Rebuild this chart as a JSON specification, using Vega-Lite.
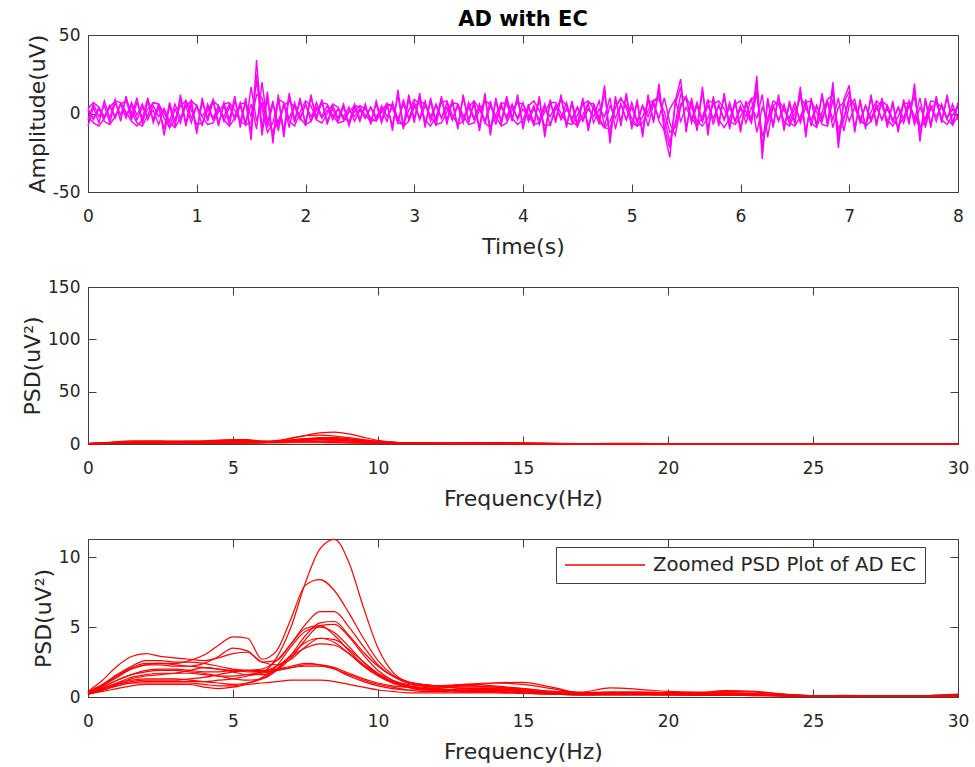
{
"$schema":"https://vega.github.io/schema/vega-lite/v6.json",
"background":"white",
"padding":{"left":21,"top":8,"right":17,"bottom":5},
"bounds":"flush",
"spacing":95,
"config":{
"font":"DejaVu Sans",
"view":{"stroke":"#404040","strokeWidth":1},
"axis":{"grid":false,"domainColor":"#404040","tickColor":"#404040","tickSize":-8,"labelFontSize":17,"labelColor":"#262626","titleFontSize":22,"titleFontWeight":"normal","titleColor":"#262626","labelFlush":false,"labelOverlap":false},
"axisX":{"labelPadding":24,"titlePadding":12},
"axisY":{"labelPadding":16,"titlePadding":3},
"title":{"font":"DejaVu Sans","fontSize":21,"fontWeight":"bold","color":"#000000","offset":-4,"anchor":"middle","frame":"group"}
},
"datasets":{
"eeg":[
{"t":0,"a":-8,"b":-4,"c":2,"d":3,"e":3,"g":-2},{"t":0.05,"a":4,"b":6,"c":-4,"d":-3,"e":7,"g":-6},{"t":0.1,"a":-6,"b":-2,"c":3,"d":4,"e":4,"g":-8},{"t":0.15,"a":8,"b":5,"c":-3,"d":-2,"e":-5,"g":-3},{"t":0.2,"a":-3,"b":-6,"c":5,"d":5,"e":-7,"g":4},{"t":0.25,"a":9,"b":7,"c":-2,"d":-3,"e":-2,"g":8},{"t":0.3,"a":-5,"b":-1,"c":6,"d":6,"e":6,"g":7},{"t":0.35,"a":11,"b":9,"c":-3,"d":-1,"e":8,"g":1},{"t":0.4,"a":-2,"b":-4,"c":7,"d":5,"e":1,"g":-5},{"t":0.45,"a":10,"b":7,"c":-1,"d":-4,"e":-6,"g":-8},
{"t":0.5,"a":-7,"b":-3,"c":6,"d":4,"e":-8,"g":-4},{"t":0.55,"a":8,"b":10,"c":-4,"d":-2,"e":-1,"g":3},{"t":0.6,"a":-4,"b":-6,"c":5,"d":2,"e":7,"g":7},{"t":0.65,"a":6,"b":4,"c":-2,"d":-7,"e":6,"g":6},{"t":0.7,"a":-14,"b":-10,"c":3,"d":3,"e":-3,"g":0},{"t":0.75,"a":5,"b":7,"c":-9,"d":-5,"e":-9,"g":-6},{"t":0.8,"a":-9,"b":-5,"c":3,"d":6,"e":-4,"g":-9},{"t":0.85,"a":12,"b":9,"c":-6,"d":-3,"e":5,"g":-3},{"t":0.9,"a":-6,"b":-8,"c":8,"d":5,"e":8,"g":5},{"t":0.95,"a":9,"b":6,"c":-3,"d":-6,"e":2,"g":8},
{"t":1,"a":-13,"b":-11,"c":5,"d":5,"e":-7,"g":5},{"t":1.05,"a":10,"b":7,"c":-8,"d":-2,"e":-6,"g":-2},{"t":1.1,"a":-5,"b":-3,"c":6,"d":4,"e":2,"g":-7},{"t":1.15,"a":8,"b":9,"c":-3,"d":-4,"e":8,"g":-6},{"t":1.2,"a":-8,"b":-6,"c":5,"d":3,"e":5,"g":1},{"t":1.25,"a":7,"b":5,"c":-5,"d":-2,"e":-4,"g":6},{"t":1.3,"a":-4,"b":-7,"c":4,"d":6,"e":-8,"g":7},{"t":1.35,"a":11,"b":8,"c":-2,"d":-4,"e":-3,"g":2},{"t":1.4,"a":-9,"b":-5,"c":7,"d":5,"e":6,"g":-5},{"t":1.45,"a":10,"b":7,"c":-6,"d":-8,"e":7,"g":-7},
{"t":1.5,"a":-17,"b":-12,"c":6,"d":17,"e":-2,"g":-6},{"t":1.55,"a":34,"b":25,"c":-10,"d":-5,"e":20,"g":12},{"t":1.6,"a":-10,"b":-14,"c":20,"d":7,"e":3,"g":10},{"t":1.65,"a":14,"b":10,"c":-6,"d":-9,"e":-12,"g":-4},{"t":1.7,"a":-19,"b":-15,"c":8,"d":6,"e":-6,"g":-12},{"t":1.75,"a":12,"b":9,"c":-11,"d":-7,"e":9,"g":-5},{"t":1.8,"a":-15,"b":-11,"c":7,"d":5,"e":7,"g":5},{"t":1.85,"a":11,"b":13,"c":-9,"d":-3,"e":-5,"g":8},{"t":1.9,"a":-6,"b":-4,"c":7,"d":5,"e":-8,"g":4},{"t":1.95,"a":10,"b":8,"c":-3,"d":-4,"e":1,"g":-3},
{"t":2,"a":-8,"b":-6,"c":6,"d":6,"e":8,"g":-7},{"t":2.05,"a":12,"b":10,"c":-5,"d":-2,"e":5,"g":-5},{"t":2.1,"a":-4,"b":-2,"c":7,"d":4,"e":-4,"g":2},{"t":2.15,"a":9,"b":7,"c":-2,"d":-3,"e":-6,"g":7},{"t":2.2,"a":-7,"b":-5,"c":5,"d":2,"e":0,"g":6},{"t":2.25,"a":5,"b":3,"c":-4,"d":-2,"e":6,"g":-1},{"t":2.3,"a":-3,"b":-5,"c":3,"d":3,"e":4,"g":-6},{"t":2.35,"a":6,"b":4,"c":-2,"d":-4,"e":-3,"g":-5},{"t":2.4,"a":-8,"b":-6,"c":4,"d":2,"e":-5,"g":1},{"t":2.45,"a":4,"b":6,"c":-5,"d":-2,"e":1,"g":5},
{"t":2.5,"a":-5,"b":-3,"c":2,"d":3,"e":5,"g":4},{"t":2.55,"a":6,"b":4,"c":-3,"d":-3,"e":3,"g":-1},{"t":2.6,"a":-7,"b":-5,"c":4,"d":4,"e":-3,"g":-5},{"t":2.65,"a":8,"b":6,"c":-4,"d":-2,"e":-5,"g":-4},{"t":2.7,"a":-4,"b":-6,"c":5,"d":3,"e":1,"g":2},{"t":2.75,"a":7,"b":5,"c":-2,"d":-5,"e":6,"g":6},{"t":2.8,"a":-11,"b":-8,"c":4,"d":7,"e":4,"g":5},{"t":2.85,"a":15,"b":12,"c":-6,"d":-4,"e":-6,"g":-3},{"t":2.9,"a":-8,"b":-10,"c":9,"d":6,"e":-7,"g":-8},{"t":2.95,"a":12,"b":9,"c":-4,"d":-3,"e":2,"g":-5},
{"t":3,"a":-6,"b":-3,"c":7,"d":6,"e":9,"g":4},{"t":3.05,"a":13,"b":10,"c":-3,"d":-4,"e":6,"g":8},{"t":3.1,"a":-9,"b":-7,"c":8,"d":5,"e":-4,"g":6},{"t":3.15,"a":10,"b":8,"c":-5,"d":-2,"e":-8,"g":-2},{"t":3.2,"a":-5,"b":-8,"c":6,"d":5,"e":-2,"g":-7},{"t":3.25,"a":11,"b":9,"c":-3,"d":-3,"e":7,"g":-6},{"t":3.3,"a":-7,"b":-4,"c":7,"d":4,"e":8,"g":1},{"t":3.35,"a":9,"b":7,"c":-4,"d":-4,"e":-1,"g":7},{"t":3.4,"a":-10,"b":-8,"c":5,"d":6,"e":-7,"g":6},{"t":3.45,"a":12,"b":10,"c":-6,"d":-3,"e":-5,"g":-1},
{"t":3.5,"a":-6,"b":-4,"c":7,"d":4,"e":4,"g":-7},{"t":3.55,"a":8,"b":6,"c":-3,"d":-4,"e":8,"g":-6},{"t":3.6,"a":-9,"b":-11,"c":4,"d":6,"e":3,"g":2},{"t":3.65,"a":13,"b":10,"c":-5,"d":-6,"e":-6,"g":8},{"t":3.7,"a":-14,"b":-10,"c":8,"d":5,"e":-9,"g":6},{"t":3.75,"a":10,"b":8,"c":-7,"d":-3,"e":-1,"g":-2},{"t":3.8,"a":-7,"b":-5,"c":6,"d":4,"e":7,"g":-8},{"t":3.85,"a":9,"b":11,"c":-4,"d":-2,"e":6,"g":-6},{"t":3.9,"a":-5,"b":-3,"c":5,"d":6,"e":-3,"g":2},{"t":3.95,"a":12,"b":9,"c":-3,"d":-4,"e":-7,"g":7},
{"t":4,"a":-10,"b":-7,"c":7,"d":3,"e":-4,"g":6},{"t":4.05,"a":6,"b":4,"c":-5,"d":-3,"e":5,"g":-1},{"t":4.1,"a":-8,"b":-6,"c":3,"d":5,"e":8,"g":-7},{"t":4.15,"a":11,"b":9,"c":-4,"d":-7,"e":2,"g":-6},{"t":4.2,"a":-15,"b":-12,"c":6,"d":4,"e":-8,"g":1},{"t":4.25,"a":9,"b":7,"c":-8,"d":-2,"e":-7,"g":7},{"t":4.3,"a":-6,"b":-4,"c":5,"d":5,"e":3,"g":7},{"t":4.35,"a":12,"b":10,"c":-3,"d":-4,"e":9,"g":0},{"t":4.4,"a":-9,"b":-7,"c":7,"d":3,"e":5,"g":-6},{"t":4.45,"a":8,"b":6,"c":-5,"d":-3,"e":-5,"g":-7},
{"t":4.5,"a":-7,"b":-9,"c":4,"d":4,"e":-8,"g":-1},{"t":4.55,"a":10,"b":8,"c":-4,"d":-5,"e":-1,"g":6},{"t":4.6,"a":-11,"b":-8,"c":6,"d":3,"e":7,"g":8},{"t":4.65,"a":6,"b":4,"c":-6,"d":-2,"e":6,"g":3},{"t":4.7,"a":-4,"b":-7,"c":3,"d":8,"e":-3,"g":-5},{"t":4.75,"a":18,"b":14,"c":-2,"d":-8,"e":-9,"g":-9},{"t":4.8,"a":-19,"b":-15,"c":10,"d":5,"e":-10,"g":-5},{"t":4.85,"a":11,"b":9,"c":-10,"d":-3,"e":4,"g":4},{"t":4.9,"a":-8,"b":-5,"c":6,"d":6,"e":10,"g":9},{"t":4.95,"a":13,"b":11,"c":-4,"d":-4,"e":3,"g":5},
{"t":5,"a":-10,"b":-8,"c":7,"d":4,"e":-6,"g":-3},{"t":5.05,"a":9,"b":7,"c":-5,"d":-6,"e":-8,"g":-8},{"t":5.1,"a":-15,"b":-12,"c":5,"d":5,"e":-2,"g":-6},{"t":5.15,"a":12,"b":9,"c":-8,"d":-2,"e":7,"g":2},{"t":5.2,"a":-6,"b":-4,"c":6,"d":8,"e":8,"g":8},{"t":5.25,"a":19,"b":15,"c":-3,"d":-5,"e":11,"g":9},{"t":5.3,"a":-12,"b":-9,"c":10,"d":-11,"e":-4,"g":1},{"t":5.35,"a":-28,"b":-22,"c":-6,"d":3,"e":-18,"g":-12},{"t":5.4,"a":8,"b":6,"c":-14,"d":9,"e":-6,"g":-9},{"t":5.45,"a":22,"b":17,"c":4,"d":-5,"e":12,"g":6},
{"t":5.5,"a":-12,"b":-9,"c":11,"d":4,"e":9,"g":10},{"t":5.55,"a":10,"b":8,"c":-6,"d":-4,"e":-3,"g":4},{"t":5.6,"a":-9,"b":-11,"c":5,"d":7,"e":-8,"g":-5},{"t":5.65,"a":17,"b":14,"c":-5,"d":-5,"e":-2,"g":-8},{"t":5.7,"a":-14,"b":-10,"c":9,"d":5,"e":8,"g":-3},{"t":5.75,"a":11,"b":9,"c":-7,"d":-3,"e":7,"g":6},{"t":5.8,"a":-8,"b":-6,"c":6,"d":5,"e":-4,"g":8},{"t":5.85,"a":13,"b":11,"c":-4,"d":-4,"e":-9,"g":3},{"t":5.9,"a":-10,"b":-8,"c":7,"d":4,"e":-3,"g":-5},{"t":5.95,"a":9,"b":7,"c":-5,"d":-5,"e":6,"g":-7},
{"t":6,"a":-12,"b":-9,"c":5,"d":3,"e":8,"g":-2},{"t":6.05,"a":8,"b":6,"c":-6,"d":-2,"e":1,"g":5},{"t":6.1,"a":-6,"b":-4,"c":4,"d":10,"e":-6,"g":9},{"t":6.15,"a":24,"b":19,"c":-3,"d":-12,"e":14,"g":12},{"t":6.2,"a":-29,"b":-23,"c":12,"d":4,"e":-20,"g":-14},{"t":6.25,"a":10,"b":8,"c":-15,"d":-4,"e":-3,"g":-6},{"t":6.3,"a":-9,"b":-7,"c":5,"d":5,"e":8,"g":5},{"t":6.35,"a":12,"b":10,"c":-5,"d":-4,"e":6,"g":8},{"t":6.4,"a":-11,"b":-9,"c":6,"d":3,"e":-5,"g":3},{"t":6.45,"a":8,"b":6,"c":-6,"d":-3,"e":-8,"g":-6},
{"t":6.5,"a":-7,"b":-5,"c":4,"d":7,"e":0,"g":-8},{"t":6.55,"a":17,"b":14,"c":-4,"d":-6,"e":10,"g":-2},{"t":6.6,"a":-15,"b":-12,"c":9,"d":4,"e":5,"g":7},{"t":6.65,"a":10,"b":8,"c":-8,"d":-4,"e":-6,"g":8},{"t":6.7,"a":-9,"b":-7,"c":5,"d":5,"e":-9,"g":1},{"t":6.75,"a":13,"b":11,"c":-5,"d":-3,"e":1,"g":-7},{"t":6.8,"a":-8,"b":-6,"c":7,"d":8,"e":9,"g":-8},{"t":6.85,"a":20,"b":16,"c":-4,"d":-9,"e":12,"g":9},{"t":6.9,"a":-22,"b":-17,"c":10,"d":4,"e":-14,"g":-10},{"t":6.95,"a":9,"b":7,"c":-11,"d":7,"e":-4,"g":-2},
{"t":7,"a":18,"b":14,"c":5,"d":-5,"e":11,"g":8},{"t":7.05,"a":-12,"b":-9,"c":9,"d":4,"e":4,"g":6},{"t":7.1,"a":9,"b":7,"c":-6,"d":-4,"e":-5,"g":-3},{"t":7.15,"a":-10,"b":-8,"c":5,"d":5,"e":-7,"g":-8},{"t":7.2,"a":12,"b":10,"c":-5,"d":-3,"e":1,"g":-5},{"t":7.25,"a":-8,"b":-6,"c":6,"d":4,"e":8,"g":3},{"t":7.3,"a":10,"b":8,"c":-4,"d":-4,"e":5,"g":8},{"t":7.35,"a":-9,"b":-7,"c":5,"d":3,"e":-4,"g":5},{"t":7.4,"a":8,"b":6,"c":-5,"d":-5,"e":-8,"g":-4},{"t":7.45,"a":-12,"b":-10,"c":4,"d":4,"e":-2,"g":-8},
{"t":7.5,"a":9,"b":7,"c":-6,"d":-3,"e":6,"g":-3},{"t":7.55,"a":-7,"b":-5,"c":5,"d":8,"e":7,"g":5},{"t":7.6,"a":19,"b":15,"c":-4,"d":-7,"e":-2,"g":10},{"t":7.65,"a":-18,"b":-14,"c":10,"d":4,"e":-9,"g":-8},{"t":7.7,"a":10,"b":8,"c":-9,"d":-4,"e":-3,"g":-6},{"t":7.75,"a":-9,"b":-7,"c":5,"d":4,"e":8,"g":3},{"t":7.8,"a":11,"b":9,"c":-5,"d":-2,"e":7,"g":7},{"t":7.85,"a":-6,"b":-4,"c":6,"d":5,"e":-4,"g":4},{"t":7.9,"a":12,"b":10,"c":-3,"d":-3,"e":-7,"g":-4},{"t":7.95,"a":-8,"b":-6,"c":6,"d":3,"e":-1,"g":-7},
{"t":8,"a":7,"b":5,"c":-4,"d":-2,"e":5,"g":-2}
],
"psd":[
{"f":0,"A":0.3,"B":0.4,"C":0.2,"D":0.3,"E":0.3,"F":0.2,"G":0.3,"H":0.2,"I":0.3,"J":0.2,"K":0.2,"L":0.4,"M":0.3,"N":0.2},
{"f":0.5,"A":0.8,"B":0.9,"C":0.5,"D":0.7,"E":0.8,"F":0.5,"G":0.6,"H":0.6,"I":0.7,"J":0.5,"K":0.4,"L":1.2,"M":0.9,"N":0.5},
{"f":1,"A":1.5,"B":1.5,"C":0.9,"D":1.2,"E":1.4,"F":0.8,"G":1.0,"H":1.0,"I":1.2,"J":0.8,"K":0.6,"L":2.2,"M":1.6,"N":0.9},
{"f":1.5,"A":2.1,"B":2.0,"C":1.1,"D":1.6,"E":2.0,"F":1.0,"G":1.2,"H":1.4,"I":1.6,"J":1.0,"K":0.8,"L":2.9,"M":2.2,"N":1.3},
{"f":2,"A":2.4,"B":2.3,"C":1.2,"D":1.8,"E":2.3,"F":1.0,"G":1.3,"H":1.6,"I":1.9,"J":1.1,"K":0.9,"L":3.1,"M":2.6,"N":1.5},
{"f":2.5,"A":2.4,"B":2.4,"C":1.2,"D":1.9,"E":2.3,"F":1.0,"G":1.3,"H":1.7,"I":2.0,"J":1.1,"K":0.9,"L":2.9,"M":2.6,"N":1.6},
{"f":3,"A":2.3,"B":2.4,"C":1.2,"D":1.9,"E":2.2,"F":1.0,"G":1.3,"H":1.7,"I":2.0,"J":1.1,"K":0.9,"L":2.8,"M":2.5,"N":1.7},
{"f":3.5,"A":2.2,"B":2.6,"C":1.3,"D":1.8,"E":2.2,"F":1.0,"G":1.2,"H":1.7,"I":1.9,"J":1.1,"K":0.9,"L":2.7,"M":2.5,"N":1.9},
{"f":4,"A":2.1,"B":3.0,"C":1.4,"D":1.7,"E":2.4,"F":0.9,"G":1.1,"H":1.6,"I":1.8,"J":1.1,"K":0.7,"L":2.6,"M":2.4,"N":2.1},
{"f":4.5,"A":2.0,"B":3.7,"C":1.6,"D":1.5,"E":2.9,"F":0.8,"G":1.0,"H":1.5,"I":1.8,"J":1.2,"K":0.6,"L":2.8,"M":2.2,"N":2.0},
{"f":5,"A":1.9,"B":4.3,"C":1.8,"D":1.3,"E":3.5,"F":0.8,"G":0.9,"H":1.5,"I":1.9,"J":1.3,"K":0.7,"L":3.1,"M":2.0,"N":1.8},
{"f":5.5,"A":1.8,"B":4.2,"C":1.9,"D":1.2,"E":3.3,"F":1.0,"G":1.0,"H":1.6,"I":1.9,"J":1.5,"K":0.9,"L":3.2,"M":1.9,"N":1.6},
{"f":6,"A":1.8,"B":2.7,"C":2.0,"D":1.3,"E":2.5,"F":1.4,"G":1.3,"H":1.8,"I":1.9,"J":1.7,"K":1.0,"L":2.5,"M":1.8,"N":1.6},
{"f":6.5,"A":2.8,"B":3.3,"C":2.6,"D":1.9,"E":2.6,"F":2.2,"G":2.0,"H":2.2,"I":2.0,"J":1.9,"K":1.1,"L":2.3,"M":1.9,"N":1.9},
{"f":7,"A":5.0,"B":5.6,"C":3.8,"D":3.0,"E":3.8,"F":3.6,"G":3.0,"H":2.9,"I":2.2,"J":2.1,"K":1.2,"L":2.7,"M":2.1,"N":2.8},
{"f":7.5,"A":8.2,"B":8.0,"C":5.2,"D":4.4,"E":4.9,"F":4.7,"G":3.9,"H":3.5,"I":2.4,"J":2.2,"K":1.2,"L":3.6,"M":2.3,"N":4.1},
{"f":8,"A":10.6,"B":8.4,"C":6.1,"D":5.3,"E":5.1,"F":5.0,"G":4.2,"H":3.8,"I":2.3,"J":2.2,"K":1.2,"L":4.2,"M":2.3,"N":5.1},
{"f":8.5,"A":11.28,"B":7.6,"C":6.1,"D":5.4,"E":4.4,"F":4.6,"G":3.9,"H":3.7,"I":2.0,"J":2.0,"K":1.1,"L":4.1,"M":2.1,"N":5.2},
{"f":9,"A":9.6,"B":6.0,"C":5.0,"D":4.4,"E":3.3,"F":3.6,"G":3.1,"H":3.1,"I":1.5,"J":1.6,"K":0.9,"L":3.4,"M":1.7,"N":4.3},
{"f":9.5,"A":6.4,"B":4.2,"C":3.6,"D":3.2,"E":2.3,"F":2.5,"G":2.2,"H":2.3,"I":1.1,"J":1.2,"K":0.7,"L":2.5,"M":1.3,"N":3.0},
{"f":10,"A":3.5,"B":2.6,"C":2.3,"D":2.2,"E":1.6,"F":1.6,"G":1.5,"H":1.6,"I":0.8,"J":0.9,"K":0.5,"L":1.7,"M":1.0,"N":1.9},
{"f":10.5,"A":1.8,"B":1.6,"C":1.5,"D":1.5,"E":1.1,"F":1.0,"G":1.0,"H":1.1,"I":0.6,"J":0.7,"K":0.4,"L":1.2,"M":0.8,"N":1.2},
{"f":11,"A":1.1,"B":1.1,"C":1.0,"D":1.1,"E":0.8,"F":0.7,"G":0.8,"H":0.8,"I":0.5,"J":0.5,"K":0.3,"L":0.9,"M":0.7,"N":0.8},
{"f":11.5,"A":0.9,"B":0.9,"C":0.8,"D":0.9,"E":0.7,"F":0.5,"G":0.6,"H":0.6,"I":0.5,"J":0.4,"K":0.3,"L":0.8,"M":0.6,"N":0.6},
{"f":12,"A":0.8,"B":0.8,"C":0.7,"D":0.8,"E":0.6,"F":0.5,"G":0.5,"H":0.5,"I":0.5,"J":0.4,"K":0.3,"L":0.7,"M":0.6,"N":0.5},
{"f":13,"A":0.8,"B":0.9,"C":0.7,"D":0.6,"E":0.5,"F":0.4,"G":0.45,"H":0.5,"I":0.4,"J":0.35,"K":0.3,"L":0.9,"M":0.8,"N":0.6},
{"f":14,"A":1.0,"B":0.8,"C":0.7,"D":0.5,"E":0.6,"F":0.4,"G":0.5,"H":0.55,"I":0.45,"J":0.35,"K":0.3,"L":1.0,"M":0.7,"N":0.6},
{"f":15,"A":1.05,"B":0.6,"C":0.5,"D":0.4,"E":0.5,"F":0.3,"G":0.4,"H":0.45,"I":0.4,"J":0.3,"K":0.25,"L":0.9,"M":0.6,"N":0.5},
{"f":16,"A":0.7,"B":0.4,"C":0.3,"D":0.3,"E":0.3,"F":0.2,"G":0.25,"H":0.3,"I":0.3,"J":0.2,"K":0.2,"L":0.6,"M":0.4,"N":0.3},
{"f":17,"A":0.3,"B":0.35,"C":0.25,"D":0.2,"E":0.2,"F":0.15,"G":0.2,"H":0.2,"I":0.25,"J":0.15,"K":0.15,"L":0.3,"M":0.3,"N":0.2},
{"f":18,"A":0.3,"B":0.65,"C":0.3,"D":0.25,"E":0.2,"F":0.15,"G":0.2,"H":0.25,"I":0.3,"J":0.2,"K":0.15,"L":0.35,"M":0.35,"N":0.2},
{"f":19,"A":0.3,"B":0.55,"C":0.3,"D":0.25,"E":0.2,"F":0.15,"G":0.2,"H":0.25,"I":0.3,"J":0.2,"K":0.15,"L":0.35,"M":0.35,"N":0.25},
{"f":20,"A":0.3,"B":0.4,"C":0.3,"D":0.2,"E":0.2,"F":0.15,"G":0.2,"H":0.2,"I":0.25,"J":0.15,"K":0.15,"L":0.3,"M":0.3,"N":0.2},
{"f":21,"A":0.25,"B":0.35,"C":0.3,"D":0.2,"E":0.2,"F":0.15,"G":0.2,"H":0.2,"I":0.2,"J":0.15,"K":0.12,"L":0.3,"M":0.3,"N":0.2},
{"f":22,"A":0.25,"B":0.4,"C":0.45,"D":0.2,"E":0.2,"F":0.12,"G":0.18,"H":0.2,"I":0.2,"J":0.15,"K":0.12,"L":0.3,"M":0.3,"N":0.2},
{"f":23,"A":0.2,"B":0.35,"C":0.4,"D":0.15,"E":0.15,"F":0.1,"G":0.15,"H":0.18,"I":0.2,"J":0.12,"K":0.1,"L":0.25,"M":0.25,"N":0.15},
{"f":24,"A":0.15,"B":0.2,"C":0.2,"D":0.1,"E":0.1,"F":0.08,"G":0.1,"H":0.12,"I":0.12,"J":0.08,"K":0.08,"L":0.15,"M":0.15,"N":0.1},
{"f":25,"A":0.1,"B":0.1,"C":0.08,"D":0.06,"E":0.05,"F":0.05,"G":0.06,"H":0.08,"I":0.06,"J":0.05,"K":0.05,"L":0.1,"M":0.1,"N":0.06},
{"f":26,"A":0.1,"B":0.1,"C":0.12,"D":0.06,"E":0.05,"F":0.05,"G":0.06,"H":0.08,"I":0.06,"J":0.05,"K":0.05,"L":0.1,"M":0.1,"N":0.06},
{"f":27,"A":0.08,"B":0.08,"C":0.1,"D":0.05,"E":0.05,"F":0.04,"G":0.05,"H":0.06,"I":0.05,"J":0.04,"K":0.04,"L":0.08,"M":0.08,"N":0.05},
{"f":28,"A":0.07,"B":0.08,"C":0.06,"D":0.05,"E":0.05,"F":0.04,"G":0.05,"H":0.06,"I":0.05,"J":0.04,"K":0.04,"L":0.08,"M":0.08,"N":0.05},
{"f":29,"A":0.1,"B":0.1,"C":0.08,"D":0.07,"E":0.06,"F":0.05,"G":0.06,"H":0.08,"I":0.07,"J":0.05,"K":0.05,"L":0.1,"M":0.1,"N":0.06},
{"f":30,"A":0.15,"B":0.2,"C":0.12,"D":0.1,"E":0.1,"F":0.08,"G":0.1,"H":0.12,"I":0.1,"J":0.08,"K":0.08,"L":0.15,"M":0.15,"N":0.1}
]
},
"vconcat":[
{
"width":870,"height":157,
"title":{"text":"AD with EC"},
"data":{"name":"eeg"},
"transform":[{"fold":["a","b","c","d","e","g"],"as":["ch","v"]}],
"layer":[
{"mark":{"type":"line","color":"#ff00ff","strokeWidth":1.4},
"encoding":{
"x":{"field":"t","type":"quantitative","scale":{"domain":[0,8],"nice":false},"axis":{"title":"Time(s)","values":[0,1,2,3,4,5,6,7,8]}},
"y":{"field":"v","type":"quantitative","scale":{"domain":[-50,50],"nice":false},"axis":{"title":"Amplitude(uV)","values":[-50,0,50],"labelExpr":"datum.value < 0 ? '-' + abs(datum.value) : '' + datum.value"}},
"detail":{"field":"ch"}}},
{"mark":{"type":"line","opacity":0},
"encoding":{
"x":{"field":"t","type":"quantitative","axis":{"orient":"top","labels":false,"title":null,"domain":false,"values":[0,1,2,3,4,5,6,7,8]}},
"y":{"field":"v","type":"quantitative","axis":{"orient":"right","labels":false,"title":null,"domain":false,"values":[-50,0,50]}},
"detail":{"field":"ch"}}}
],
"resolve":{"axis":{"x":"independent","y":"independent"}}
},
{
"width":870,"height":157,
"data":{"name":"psd"},
"transform":[{"fold":["A","B","C","D","E","F","G","H","I","J","K","L","M","N"],"as":["ch","p"]}],
"layer":[
{"mark":{"type":"line","color":"#ff0000","strokeWidth":1.2,"interpolate":"monotone"},
"encoding":{
"x":{"field":"f","type":"quantitative","scale":{"domain":[0,30],"nice":false},"axis":{"title":"Frequency(Hz)","values":[0,5,10,15,20,25,30]}},
"y":{"field":"p","type":"quantitative","scale":{"domain":[0,150],"nice":false},"axis":{"title":"PSD(uV²)","values":[0,50,100,150]}},
"detail":{"field":"ch"}}},
{"mark":{"type":"line","opacity":0},
"encoding":{
"x":{"field":"f","type":"quantitative","axis":{"orient":"top","labels":false,"title":null,"domain":false,"values":[0,5,10,15,20,25,30]}},
"y":{"field":"p","type":"quantitative","axis":{"orient":"right","labels":false,"title":null,"domain":false,"values":[0,50,100,150]}},
"detail":{"field":"ch"}}}
],
"resolve":{"axis":{"x":"independent","y":"independent"}}
},
{
"width":870,"height":158,
"data":{"name":"psd"},
"transform":[{"fold":["A","B","C","D","E","F","G","H","I","J","K","L","M","N"],"as":["ch","p"]}],
"layer":[
{"mark":{"type":"line","strokeWidth":1.2,"interpolate":"monotone"},
"encoding":{
"x":{"field":"f","type":"quantitative","scale":{"domain":[0,30],"nice":false},"axis":{"title":"Frequency(Hz)","values":[0,5,10,15,20,25,30]}},
"y":{"field":"p","type":"quantitative","scale":{"domain":[0,11.3],"nice":false},"axis":{"title":"PSD(uV²)","values":[0,5,10]}},
"color":{"datum":"Zoomed PSD Plot of AD EC","scale":{"range":["#ff0000"]},"legend":{"orient":"none","legendX":468,"legendY":512,"title":null,"symbolType":"stroke","symbolSize":6400,"symbolStrokeWidth":1.3,"clipHeight":20,"labelFontSize":19.7,"labelLimit":0,"labelColor":"#262626","labelOffset":7,"fillColor":"#ffffff","strokeColor":"#404040","padding":8}},
"detail":{"field":"ch"}}},
{"mark":{"type":"line","opacity":0},
"encoding":{
"x":{"field":"f","type":"quantitative","axis":{"orient":"top","labels":false,"title":null,"domain":false,"values":[0,5,10,15,20,25,30]}},
"y":{"field":"p","type":"quantitative","axis":{"orient":"right","labels":false,"title":null,"domain":false,"values":[0,5,10]}},
"detail":{"field":"ch"}}}
],
"resolve":{"axis":{"x":"independent","y":"independent"}}
}
]
}
